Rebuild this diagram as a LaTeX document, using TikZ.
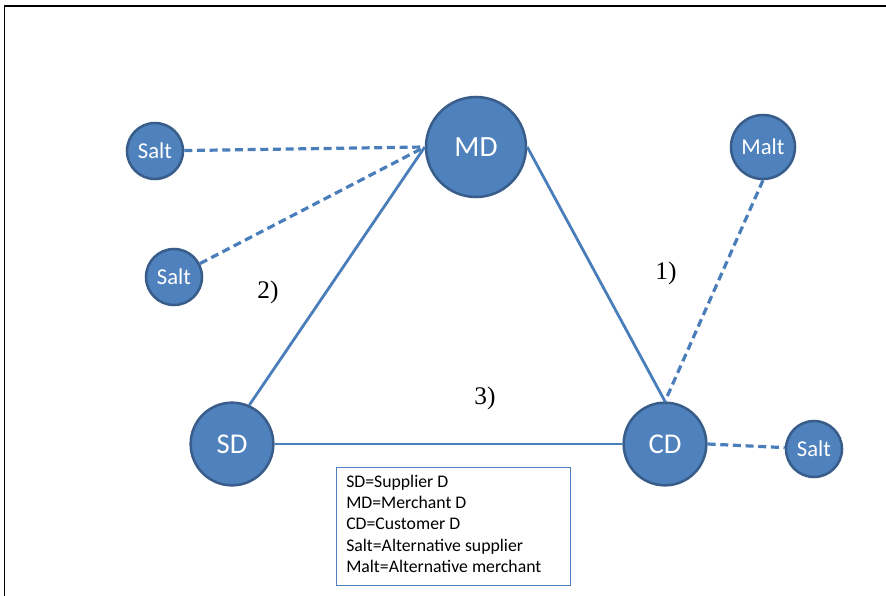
\documentclass[tikz,border=0pt]{standalone}
\usepackage{fontspec}
\setmainfont{Liberation Serif}
\newfontfamily\carlito{Carlito}
\definecolor{nodeblue}{HTML}{4F81BD}
\definecolor{nodeborder}{HTML}{385D8A}
\definecolor{edgeblue}{HTML}{4A7EBB}
\begin{document}
\begin{tikzpicture}[x=0.75pt,y=-0.75pt,
  bubble/.style={circle, fill=nodeblue, draw=nodeborder, line width=1.9pt, text=white, inner sep=0pt},
  solidedge/.style={draw=edgeblue, line width=2.1pt},
  dashedge/.style={draw=edgeblue, line width=2.4pt, dash pattern=on 6pt off 3.5pt},
  steplabel/.style={font=\fontsize{19}{22}\selectfont, inner sep=0pt},
  legendbox/.style={draw=nodeblue, line width=0.8pt, fill=white}]
\useasboundingbox (0,0) rectangle (886,596);
% frame
\draw[line width=1.2pt, line cap=rect] (4.5,596) -- (4.5,6) -- (886,6);
% nodes
\node[bubble, minimum size=75pt, font=\carlito\fontsize{22}{26}\selectfont] (MD) at (476,147) {MD};
\node[bubble, minimum size=62pt, font=\carlito\fontsize{21.5}{26}\selectfont] (SD) at (232,444) {SD};
\node[bubble, minimum size=62pt, font=\carlito\fontsize{21.5}{26}\selectfont] (CD) at (665,444) {CD};
\node[bubble, minimum size=42pt, font=\carlito\fontsize{17}{20}\selectfont] (S1) at (155,151) {Salt};
\node[bubble, minimum size=42pt, font=\carlito\fontsize{17}{20}\selectfont] (S2) at (174,277) {Salt};
\node[bubble, minimum size=42pt, font=\carlito\fontsize{17}{20}\selectfont] (S3) at (814,449) {Salt};
\node[bubble, minimum size=48pt, font=\carlito\fontsize{17}{20}\selectfont] (MA) at (763,147) {Malt};
% connector end points
\coordinate (MDw) at (MD.west);
\coordinate (CDn) at (CD.north);
% connectors
\path[dashedge] (S1) -- (MDw);
\path[dashedge] (S2) -- (MDw);
\path[solidedge] (SD.66) -- (MDw);
\path[solidedge] (MD.east) -- (CDn);
\path[dashedge] (MA.south) -- (CDn);
\path[solidedge] (SD) -- (CD);
\path[dashedge] (CD.east) -- (S3);
% step labels
\node[steplabel] (L2) at (268,292) {2)};
\node[steplabel] (L1) at (666,273) {1)};
\node[steplabel] (L3) at (485,398) {3)};
% legend
\node[legendbox, minimum width=176pt, minimum height=88.5pt, anchor=north west, inner sep=0pt] (leg) at (335.5,467) {};
\node[anchor=north west, align=left, inner sep=0pt, font=\carlito\fontsize{13.3}{15.9}\selectfont] (legtext) at (346,475)
  {SD=Supplier D\\MD=Merchant D\\CD=Customer D\\Salt=Alternative supplier\\Malt=Alternative merchant};
\end{tikzpicture}
\end{document}
